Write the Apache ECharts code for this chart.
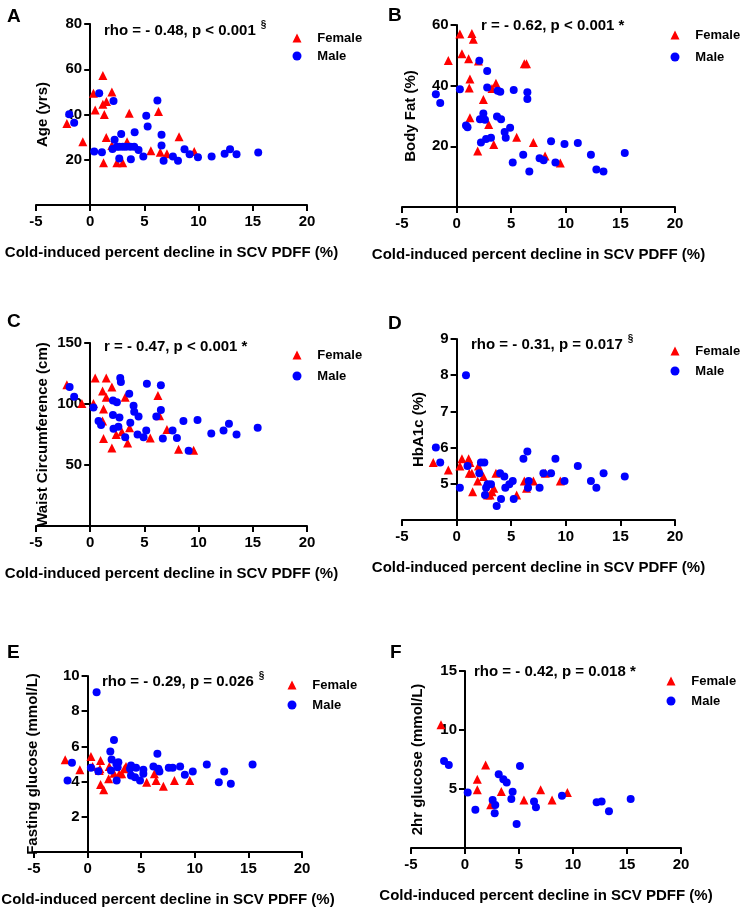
<!DOCTYPE html>
<html>
<head>
<meta charset="utf-8">
<script src="https://cdn.jsdelivr.net/npm/echarts@6/dist/echarts.min.js"></script>
<style>
html,body{margin:0;padding:0;background:#fff;}
#chart{width:747px;height:910px;}
</style>
</head>
<body>
<div id="chart"></div>
<script>
// ---------- DATA ([x = cold-induced % decline in SCV PDFF, y = value]) ----------
const ageFemale = [[-2.15,36],[-0.68,28],[0.3,49.4],[0.46,42],[1.17,57.2],[1.17,44.5],[1.3,40],[1.5,45.7],[1.48,29.8],[1.23,18.7],[2.0,49.9],[2.0,26.3],[2.46,18.7],[3.0,18.7],[3.4,28],[3.6,40.6],[5.6,24],[6.3,41.3],[6.46,23.3],[7.08,22.6],[8.2,30.2],[9.6,23.6]];
const ageMale = [[-1.94,40.1],[-1.48,36.4],[0.37,23.6],[0.83,49.4],[1.08,23.3],[2.15,46],[2.06,24.8],[2.25,28.8],[2.46,25.8],[2.68,20.6],[2.68,25.8],[2.86,31.4],[3.0,25.8],[3.3,25.8],[3.7,25.8],[3.75,20.2],[4.06,25.8],[4.1,32.2],[4.46,24.3],[4.9,21.4],[5.17,39.5],[5.3,34.7],[6.2,46.2],[6.58,31],[6.58,26.3],[6.77,19.6],[7.63,21.4],[8.1,19.6],[8.7,24.6],[9.17,22.4],[9.94,21.1],[11.2,21.4],[12.4,22.6],[12.9,24.6],[13.5,22.4],[15.5,23.2]];

const fatFemale = [[-0.76,48.3],[0.3,57],[0.49,50.5],[1.1,48.9],[1.22,42.2],[1.16,39.2],[1.4,57.2],[1.53,55.3],[1.22,29.4],[1.93,18.5],[2.0,48.1],[2.45,35.4],[2.94,27.2],[3.24,39.1],[3.4,20.6],[3.6,40.8],[5.5,23],[6.2,47.2],[6.4,47.2],[7.03,21.3],[8.1,16.8],[9.5,14.5]];
const fatMale = [[-1.9,37.2],[-1.5,34.3],[0.3,38.8],[0.86,26.9],[1.0,26.3],[2.08,48.2],[2.14,28.9],[2.23,21.3],[2.45,30.8],[2.6,28.8],[2.7,22.4],[2.8,44.8],[2.8,39.4],[3.15,22.8],[3.7,29.8],[3.76,38.3],[4.0,38],[4.07,28.9],[4.4,24.7],[4.5,22.8],[4.9,26.1],[5.14,14.7],[5.23,38.6],[6.1,17.2],[6.48,35.6],[6.48,37.8],[6.66,11.7],[7.6,16.1],[7.97,15.4],[8.65,21.7],[9.05,14.7],[9.88,20.8],[11.1,21.1],[12.3,17.2],[12.8,12.4],[13.45,11.7],[15.4,17.8]];

const waistFemale = [[-2.15,115.8],[-0.77,100.5],[0.3,100.5],[0.46,121.4],[1.14,110.6],[1.14,86],[1.23,95.8],[1.23,71.7],[1.48,121.4],[1.48,105.6],[2.0,113.9],[2.0,63.9],[2.4,75],[2.92,77.2],[3.23,105.6],[3.45,68],[3.63,80.6],[5.54,72.2],[6.25,107],[6.4,90.3],[7.08,79.2],[8.15,63],[9.54,62]];
const waistMale = [[-1.9,113.9],[-1.48,106],[0.3,97.2],[0.77,86],[1.0,82.8],[2.1,102.8],[2.46,101.4],[2.1,91],[2.7,88.9],[2.15,79.7],[2.6,81.4],[2.77,121.4],[2.83,118],[3.23,72.8],[3.6,108.3],[3.7,84.7],[4.0,98.6],[4.06,93.6],[4.46,89.7],[4.37,75],[4.92,72.8],[5.17,78.3],[5.23,116.7],[6.1,89.7],[6.52,115.3],[6.52,95],[6.7,71.7],[7.6,78.3],[8.0,72.2],[8.6,86],[9.08,61.7],[9.9,86.9],[11.17,75.8],[12.3,78.3],[12.8,83.9],[13.5,75],[15.45,80.6]];

const hba1cFemale = [[-2.14,5.59],[-0.76,5.38],[0.3,5.49],[0.49,5.69],[1.1,5.69],[1.22,5.59],[1.16,5.29],[1.4,5.29],[1.47,4.78],[1.93,5.08],[2.0,5.49],[2.45,5.2],[2.84,4.69],[3.06,4.69],[3.24,4.78],[3.4,4.88],[3.6,5.29],[5.5,4.69],[6.2,5.08],[6.4,4.88],[7.03,5.08],[8.13,5.29],[9.5,5.08]];
const hba1cMale = [[-1.9,6.0],[-1.5,5.59],[0.3,4.89],[0.86,8.0],[1.0,5.49],[2.08,5.29],[2.23,5.59],[2.54,5.59],[2.6,4.69],[2.7,4.89],[2.84,4.99],[3.15,4.99],[3.67,4.39],[3.98,5.29],[4.07,4.58],[4.37,5.2],[4.46,4.89],[4.83,4.99],[5.14,5.08],[5.23,4.58],[6.12,5.69],[6.48,5.89],[6.54,4.89],[6.6,5.08],[7.6,4.89],[7.95,5.29],[8.65,5.29],[9.05,5.69],[9.88,5.08],[11.1,5.49],[12.3,5.08],[12.8,4.89],[13.46,5.29],[15.4,5.2]];

const fgFemale = [[-2.09,5.24],[-0.72,4.67],[0.31,5.43],[0.47,4.86],[1.09,4.63],[1.21,5.2],[1.15,4.73],[1.21,3.84],[1.5,3.53],[1.96,4.16],[2.02,4.86],[2.46,4.48],[2.96,4.44],[3.18,4.44],[3.43,4.73],[3.58,4.86],[5.51,3.97],[6.23,4.44],[6.39,4.06],[7.07,3.74],[8.1,4.06],[9.53,4.06]];
const fgMale = [[-1.87,4.06],[-1.46,5.07],[0.31,4.78],[0.84,9.07],[1.0,4.59],[2.12,5.71],[2.24,5.26],[2.18,4.63],[2.46,6.37],[2.68,5.01],[2.8,4.82],[2.71,4.06],[2.87,5.1],[3.96,4.73],[4.05,4.91],[4.05,4.35],[4.42,4.25],[4.52,4.78],[4.89,4.06],[5.2,4.67],[5.2,4.44],[6.14,4.86],[6.51,5.58],[6.6,4.73],[6.7,4.57],[7.57,4.78],[7.94,4.78],[8.63,4.86],[9.07,4.39],[9.81,4.57],[11.12,4.97],[12.24,3.97],[12.74,4.57],[13.36,3.88],[15.39,4.97]];

const ogttFemale = [[-2.22,10.45],[1.14,4.94],[1.14,5.83],[1.91,7.03],[2.38,3.67],[3.36,4.79],[5.46,4.06],[7.0,4.94],[8.06,4.06],[9.48,4.7]];
const ogttMale = [[-1.94,7.37],[-1.5,7.03],[0.25,4.7],[0.96,3.25],[2.56,4.06],[2.8,3.64],[2.75,2.94],[3.12,6.25],[3.55,5.83],[3.86,5.55],[4.29,4.15],[4.41,4.76],[4.78,2.04],[5.09,6.95],[6.39,3.95],[6.57,3.45],[8.98,4.43],[12.19,3.87],[12.65,3.95],[13.33,3.11],[15.34,4.15]];

const panelLetters = ['A','B','C','D','E','F'];
const yNames = ['Age (yrs)','Body Fat (%)','Waist Circumference (cm)','HbA1c (%)','Fasting glucose (mmol/L)','2hr glucose (mmol/L)'];
const statTexts = ['rho = - 0.48, p < 0.001','r = - 0.62, p < 0.001 *','r = - 0.47, p < 0.001 *','rho = - 0.31, p = 0.017','rho = - 0.29, p = 0.026','rho = - 0.42, p = 0.018 *'];
const statSup = ['§','','','§','§',''];
const xMin = -5, xMax = 20, xStep = 5;
const yMin = [0,0,0,4,0,0];
const yMax = [80,60,150,9,10,15];
const yStep = [20,20,50,1,2,5];
const xTitle = 'Cold-induced percent decline in SCV PDFF (%)';
const seriesNames = ['Female','Male'];
const femaleSets = [ageFemale,fatFemale,waistFemale,hba1cFemale,fgFemale,ogttFemale];
const maleSets = [ageMale,fatMale,waistMale,hba1cMale,fgMale,ogttMale];

// ---------- LAYOUT ----------
const FONT = '"Liberation Sans", Arial, Helvetica, sans-serif';
const grids = [
  {left:36, top:24, width:271, height:181},
  {left:402, top:25, width:273, height:182},
  {left:36, top:343, width:271, height:183},
  {left:402, top:339, width:273, height:181},
  {left:34, top:676, width:268, height:176},
  {left:411, top:671, width:270, height:177}
];
const yNameGap = [40,38,40,30,47,40];
const letterPos = [[7,15],[388,14],[7,320],[388,322],[7,651],[390,651]];
const statPos = [[104,29],[481,27],[104,348],[471,343],[102,680],[474,673]];
const legendPos = [[297,38,18],[675,35,22],[297,355,21],[675,351,20],[292,685,20],[671,681,20]];

const option = {
  backgroundColor:'#fff',
  animation:false,
  grid: grids.map(g => Object.assign({containLabel:false, outerBoundsMode:'none'}, g)),
  xAxis: grids.map((g,i) => ({
    type:'value', gridIndex:i, min:xMin, max:xMax, interval:xStep,
    name:xTitle, nameLocation:'middle', nameGap:40,
    nameTextStyle:{fontFamily:FONT, fontWeight:'bold', fontSize:15, color:'#000'},
    axisLine:{onZero:false, lineStyle:{color:'#000', width:2}},
    axisTick:{show:true, length:6, lineStyle:{color:'#000', width:2}},
    axisLabel:{fontFamily:FONT, fontWeight:'bold', fontSize:15, color:'#000', margin:9},
    splitLine:{show:false}
  })),
  yAxis: grids.map((g,i) => ({
    type:'value', gridIndex:i, min:yMin[i], max:yMax[i], interval:yStep[i],
    // y axis crosses the x axis at x = 0 (Prism style)
    offset: -g.width * (0 - xMin) / (xMax - xMin),
    name:yNames[i], nameLocation:'middle', nameGap:yNameGap[i],
    nameTextStyle:{fontFamily:FONT, fontWeight:'bold', fontSize:15, color:'#000'},
    axisLine:{onZero:false, lineStyle:{color:'#000', width:2}},
    axisTick:{show:true, length:6, lineStyle:{color:'#000', width:2}},
    axisLabel:{fontFamily:FONT, fontWeight:'bold', fontSize:15, color:'#000', margin:8,
      formatter: v => (v === yMin[i] ? '' : String(v))},
    splitLine:{show:false}
  })),
  legend: legendPos.map(p => ({
    orient:'vertical', left:p[0]-4.5, top:p[1]-8, itemGap:p[2]-16, padding:0,
    itemWidth:9, itemHeight:9,
    data:seriesNames,
    formatter: name => '   ' + name,
    textStyle:{fontFamily:FONT, fontWeight:'bold', fontSize:13, color:'#000', lineHeight:16},
    selectedMode:false
  })),
  series: [],
  graphic: []
};

for (let i = 0; i < 6; i++) {
  option.series.push({
    name:'Female', type:'scatter', xAxisIndex:i, yAxisIndex:i,
    symbol:'triangle', symbolSize:9, data:femaleSets[i],
    itemStyle:{color:'#ff0000', opacity:1}
  });
  option.series.push({
    name:'Male', type:'scatter', xAxisIndex:i, yAxisIndex:i,
    symbol:'circle', symbolSize:8, data:maleSets[i],
    itemStyle:{color:'#0000ff', opacity:1}
  });
  option.graphic.push({
    type:'text', left:letterPos[i][0], top:letterPos[i][1]-8,
    style:{text:panelLetters[i], fontFamily:FONT, fontWeight:'bold', fontSize:19, fill:'#000'}
  });
  const sup = statSup[i] ? '{s|' + statSup[i] + '}' : '';
  option.graphic.push({
    type:'text', left:statPos[i][0], top:statPos[i][1]-9,
    style:{
      text:'{m|' + statTexts[i] + '}' + sup,
      rich:{
        m:{fontFamily:FONT, fontWeight:'bold', fontSize:15, fill:'#000', lineHeight:18, verticalAlign:'bottom'},
        s:{fontFamily:FONT, fontWeight:'bold', fontSize:10, fill:'#000', lineHeight:18, verticalAlign:'top', padding:[0,0,0,5]}
      }
    }
  });
}

const chart = echarts.init(document.getElementById('chart'), null, {renderer:'canvas'});
chart.setOption(option);
</script>
</body>
</html>
